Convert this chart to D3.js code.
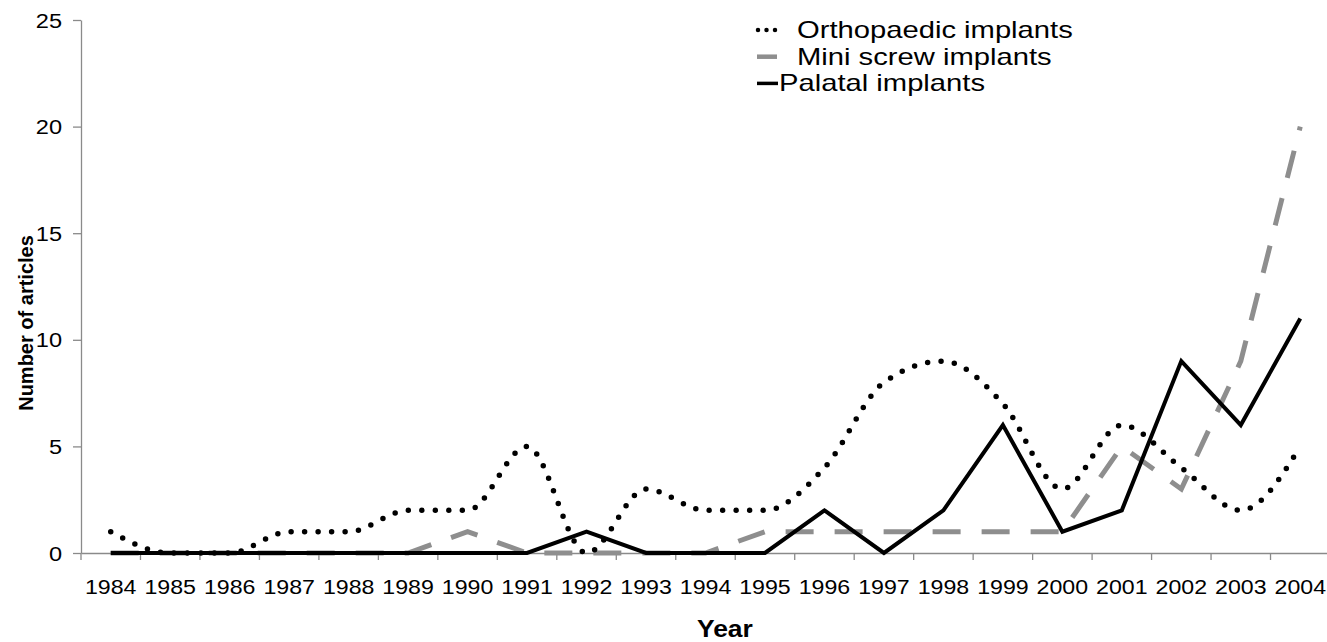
<!DOCTYPE html>
<html>
<head>
<meta charset="utf-8">
<script src="https://cdn.jsdelivr.net/npm/d3@7"></script>
<style>
    body { margin: 0; background: #fff; }
    text { font-family: "Liberation Sans", Arial, sans-serif; fill: #000; }
</style>
</head>
<body>
<script>
// chart data
const years = ["1984", "1985", "1986", "1987", "1988", "1989", "1990", "1991", "1992", "1993", "1994",
    "1995", "1996", "1997", "1998", "1999", "2000", "2001", "2002", "2003", "2004"];
const orthopaedic = [1, 0, 0, 1, 1, 2, 2, 5, 0, 3, 2, 2, 4, 8, 9, 7, 3, 6, 4, 2, 5];
const miniScrew = [0, 0, 0, 0, 0, 0, 1, 0, 0, 0, 0, 1, 1, 1, 1, 1, 1, 5, 3, 9, 20];
const palatal = [0, 0, 0, 0, 0, 0, 0, 0, 1, 0, 0, 0, 2, 0, 2, 6, 1, 2, 9, 6, 11];
const yTicks = [0, 5, 10, 15, 20, 25];
const seriesNames = ["Orthopaedic implants", "Mini screw implants", "Palatal implants"];

document.addEventListener('DOMContentLoaded', function () {

    const w = 1327;
    const h = 642;
    const margin = { top: 20, right: -3, bottom: 89, left: 81 };
    const axisColor = '#8a8a8a';

    const svg = d3.select("body")
        .append("svg")
        .attr("width", w)
        .attr("height", h);

    const xScale = d3.scaleBand()
        .domain(years)
        .range([margin.left, w - margin.right])
        .padding(0);

    const yScale = d3.scaleLinear()
        .domain([0, 25])
        .range([h - margin.bottom, margin.top]);

    const xMid = d => xScale(d) + xScale.bandwidth() / 2;

    // y axis
    const yAxis = d3.axisLeft(yScale)
        .tickValues(yTicks)
        .tickSizeInner(8)
        .tickSizeOuter(0)
        .tickPadding(11);

    const yAxisG = svg.append('g')
        .attr('transform', `translate(${margin.left},0)`)
        .call(yAxis);
    yAxisG.select('.domain').attr('stroke', axisColor).attr('stroke-width', 1.3);
    yAxisG.selectAll('.tick line').attr('stroke', axisColor).attr('stroke-width', 1.3);
    yAxisG.selectAll('.tick text')
        .attr('font-size', 20.5)
        .attr('font-family', null)
        .attr('dy', '0.35em')
        .attr('transform', 'translate(-19,0) scale(1.15,1)')
        .attr('x', 0);

    // x axis: labels at category centres, ticks on the boundaries
    const xAxis = d3.axisBottom(xScale)
        .tickSize(0)
        .tickPadding(26);

    const xAxisG = svg.append('g')
        .attr('transform', `translate(0,${h - margin.bottom})`)
        .call(xAxis);
    xAxisG.select('.domain').attr('stroke', axisColor).attr('stroke-width', 1.3);
    xAxisG.selectAll('.tick text')
        .attr('font-size', 20.5)
        .attr('font-family', null)
        .attr('y', 0)
        .attr('dy', 0)
        .attr('transform', 'translate(0,41) scale(1.13,1)');

    xAxisG.selectAll('line.bound')
        .data(years.concat(['end']))
        .enter()
        .append('line')
        .attr('class', 'bound')
        .attr('x1', d => d === 'end' ? xScale.range()[1] : xScale(d))
        .attr('x2', d => d === 'end' ? xScale.range()[1] : xScale(d))
        .attr('y1', 0)
        .attr('y2', 7)
        .attr('stroke', axisColor)
        .attr('stroke-width', 1.3);

    // lines
    const smoothLine = d3.line()
        .x((d, i) => xMid(years[i]))
        .y(d => yScale(d))
        .curve(d3.curveMonotoneX);

    const straightLine = d3.line()
        .x((d, i) => xMid(years[i]))
        .y(d => yScale(d));

    svg.append('path')
        .datum(miniScrew)
        .attr('d', straightLine)
        .attr('fill', 'none')
        .attr('stroke', '#8e8e8e')
        .attr('stroke-width', 5)
        .attr('stroke-dasharray', '28 21');

    svg.append('path')
        .datum(palatal)
        .attr('d', straightLine)
        .attr('fill', 'none')
        .attr('stroke', '#000')
        .attr('stroke-width', 4)
        .attr('stroke-linejoin', 'miter');

    svg.append('path')
        .datum(orthopaedic)
        .attr('d', smoothLine)
        .attr('fill', 'none')
        .attr('stroke', '#000')
        .attr('stroke-width', 5.5)
        .attr('stroke-linecap', 'round')
        .attr('stroke-dasharray', '0 13.5');

    // axis titles
    svg.append('text')
        .attr('transform', 'translate(33,323) rotate(-90)')
        .attr('text-anchor', 'middle')
        .attr('font-size', 20)
        .attr('font-weight', 'bold')
        .text('Number of articles');

    svg.append('text')
        .attr('transform', 'translate(697,637) scale(1.15,1)')
        .attr('font-size', 23)
        .attr('font-weight', 'bold')
        .text('Year');

    // legend
    const legend = svg.append('g')
        .attr('transform', 'translate(757,30)');

    legend.append('line')
        .attr('x1', 1).attr('x2', 19).attr('y1', 0).attr('y2', 0)
        .attr('stroke', '#000')
        .attr('stroke-width', 4.5)
        .attr('stroke-linecap', 'round')
        .attr('stroke-dasharray', '0 8.5');

    legend.append('line')
        .attr('x1', 0).attr('x2', 20).attr('y1', 26.7).attr('y2', 26.7)
        .attr('stroke', '#8e8e8e')
        .attr('stroke-width', 4.5);

    legend.append('line')
        .attr('x1', 0).attr('x2', 21).attr('y1', 53.4).attr('y2', 53.4)
        .attr('stroke', '#000')
        .attr('stroke-width', 3.5);

    legend.selectAll('text.leg')
        .data(seriesNames)
        .enter()
        .append('text')
        .attr('class', 'leg')
        .attr('transform', (d, i) => `translate(${i === 2 ? 22 : 40},${i * 26.7 + 8}) scale(1.27,1)`)
        .attr('font-size', 23)
        .text(d => d);
});
</script>
</body>
</html>
